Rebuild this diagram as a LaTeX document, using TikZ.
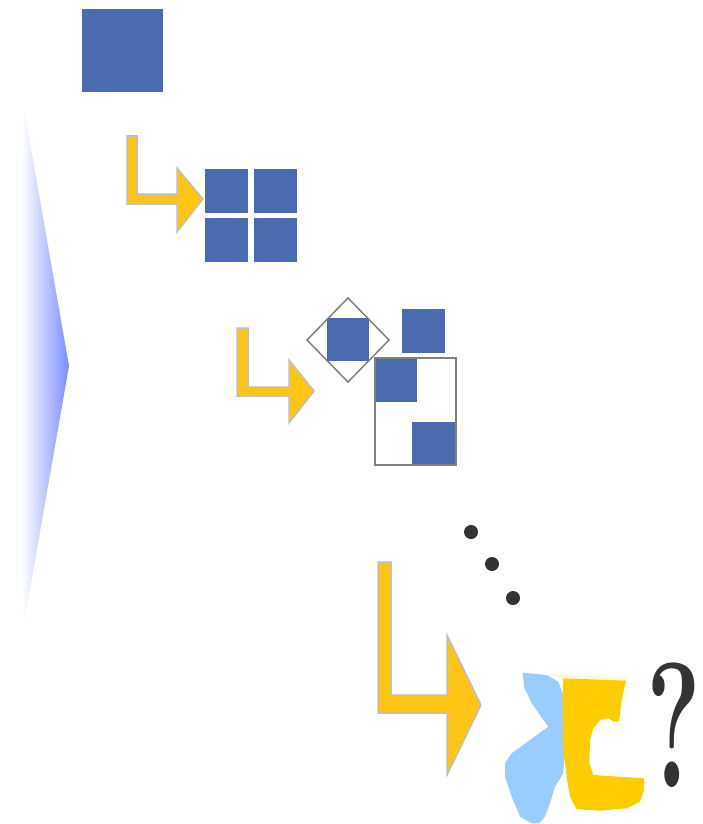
\documentclass[tikz,border=0pt]{standalone}
\usepackage{fontspec}
\usepackage{xcolor}
\usepackage{tikz}
\usetikzlibrary{positioning}
\definecolor{boxblue}{HTML}{4A6BB0}
\definecolor{fadeblue}{HTML}{7B8CFF}
\definecolor{arrowyellow}{HTML}{FFC514}
\definecolor{arrowedge}{HTML}{BFBFBF}
\definecolor{framegray}{HTML}{808080}
\definecolor{blobblue}{HTML}{99CCFF}
\definecolor{blobyellow}{HTML}{FFCC00}
\definecolor{dotgray}{HTML}{333333}

\begin{document}
\begin{tikzpicture}[x=1pt, y=-1pt,
  bentarrow/.style={fill=arrowyellow, draw=arrowedge, line width=1.5pt, line join=miter},
  bluesq/.style={fill=boxblue},
  grayframe/.style={draw=framegray, line width=1.5pt}]
\useasboundingbox (0,0) rectangle (702,824);
% fading wedge on the left
\shade[left color=white, right color=fadeblue] (22,97) -- (69,366) -- (22,635) -- cycle;
% one block
\fill[bluesq] (82,9) rectangle (163,92);
\filldraw[bentarrow] (127,136) -- (137,136) -- (137,194) -- (177,194) -- (177,168)
  -- (203,199) -- (177,232) -- (177,204) -- (127,204) -- cycle;
% split into four
\fill[bluesq] (205,169) rectangle (248,213);
\fill[bluesq] (254,169) rectangle (297,213);
\fill[bluesq] (205,218) rectangle (248,262);
\fill[bluesq] (254,218) rectangle (297,262);
\filldraw[bentarrow] (237,328) -- (248,328) -- (248,387) -- (289,387) -- (289,360)
  -- (314,391) -- (289,423) -- (289,396) -- (237,396) -- cycle;
% rearranged blocks
\fill[bluesq] (327,318) rectangle (369,361);
\draw[grayframe] (307,340) -- (348,298) -- (389,340) -- (348,382) -- cycle;
\fill[bluesq] (402,309) rectangle (445,353);
\fill[bluesq] (375,358) rectangle (417,402);
\fill[bluesq] (412,422) rectangle (456,465);
\draw[grayframe] (375,358) rectangle (456,465);
% dots
\fill[dotgray] (471,532) circle (7pt);
\fill[dotgray] (492,564) circle (7pt);
\fill[dotgray] (513,598) circle (7pt);
\filldraw[bentarrow] (378,562) -- (391,562) -- (391,695) -- (447,695) -- (447,635)
  -- (481,705) -- (447,775) -- (447,713) -- (378,713) -- cycle;
% result shapes
\fill[blobblue] (522.7,672.7) -- (546.7,675) -- (558.3,681.7) -- (562.7,693.3)
  -- (566,740) -- (563.3,773.3) -- (555,786.7) -- (550,803.3) -- (545,816.7)
  -- (539.3,823.3) -- (531.7,823.3) -- (520,816.7) -- (511.7,796.7) -- (505,776.7)
  -- (505,763.3) -- (511.7,753.3) -- (530,740) -- (548.3,726.7) -- (540,715)
  -- (531.7,703.3) -- (524,686.7) -- cycle;
\fill[blobyellow!15] (546,674) -- (626,677.5) -- (626,680.7) -- (563.3,678.3) -- cycle;
\fill[blobyellow] (563.3,678.3) -- (626,680.7) -- (621.7,700) -- (619,721.7)
  -- (613.3,721.7) -- (608.3,718.3) -- (600,720) -- (593.3,728.3) -- (590,740)
  -- (589.3,763.3) -- (593.3,775) -- (644,778.3) -- (644,790) -- (640,801.7)
  -- (626.7,808.3) -- (600,810.7) -- (576.7,809.3) -- (570,796.7) -- (566.7,776.7)
  -- (563.3,750) -- (562.7,700) -- cycle;
\node[anchor=base, inner sep=0pt, text=dotgray, font=\bfseries\fontsize{178}{178}\selectfont]
  (qmark) at (674,787) {\scalebox{0.58}[1]{?}};
\end{tikzpicture}
\end{document}
